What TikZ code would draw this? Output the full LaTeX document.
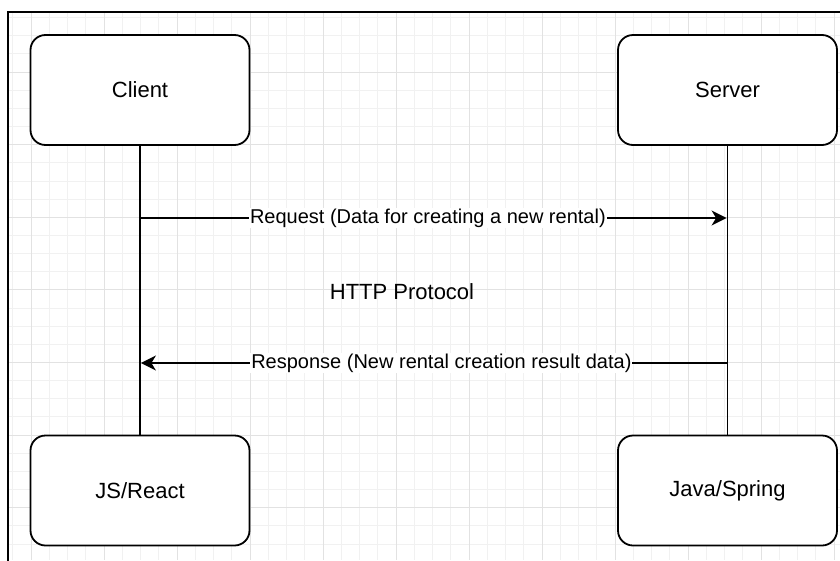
\documentclass[tikz,border=0pt]{standalone}
\usepackage{fontspec}
\setmainfont{Liberation Sans}
\usetikzlibrary{arrows.meta}
\definecolor{gridminor}{HTML}{F1F1F1}
\definecolor{gridmajor}{HTML}{E2E2E2}
\begin{document}
\begin{tikzpicture}[x=1pt, y=-1pt,
  font=\fontsize{22}{26}\selectfont,
  block/.style={draw=black, line width=1.8pt, rounded corners=15pt,
    minimum width=219pt, minimum height=110pt, fill=white, inner sep=0pt},
  lifeline/.style={line width=1.8pt},
  msg/.style={line width=1.8pt, shorten >=0.9pt,
    -{Stealth[length=15pt, width=15pt, inset=4.5pt]}},
  msglabel/.style={fill=white, inner sep=1pt, font=\fontsize{20}{24}\selectfont}]
\useasboundingbox (0,0) rectangle (840,560);

% background grid inside the frame
\begin{scope}
  \clip (8,12) rectangle (840,560);
  \foreach \k in {-1,...,45}
    \draw[gridminor, line width=1pt] ({31+18.25*\k},12) -- ++(0,548);
  \foreach \k in {0,...,31}
    \draw[gridminor, line width=1pt] (8,{-0.5+18.15*\k}) -- ++(832,0);
  \foreach \k in {0,...,11}
    \draw[gridmajor, line width=1pt] ({31+73*\k},12) -- ++(0,548);
  \foreach \k in {0,...,8}
    \draw[gridmajor, line width=1pt] (8,{-0.5+72.6*\k}) -- ++(832,0);
\end{scope}

% frame
\draw[line width=2.2pt] (8,561) -- (8,12) -- (841,12);

% participants
\node[block] (client) at (140,90)    {Client};
\node[block] (server) at (727.5,90)  {Server};
\node[block] (react)  at (140,490.5) {JS/React};
\node[block] (spring) at (727.5,490.5) {Java/Spring};

% lifelines
\draw[lifeline] (client) -- (react);
\draw[lifeline] (server) -- (spring);

% message anchors on the lifelines
\coordinate (reqA) at (140,218);
\coordinate (reqB) at (727.5,218);
\coordinate (resA) at (727.5,363);
\coordinate (resB) at (140,363);

\draw[msg] (reqA) -- node[msglabel, pos=0.49] {Request (Data for creating a new rental)} (reqB);
\draw[msg] (resA) -- node[msglabel, pos=0.487] {Response (New rental creation result data)} (resB);

\node (http) at (402,292) {HTTP Protocol};
\end{tikzpicture}
\end{document}
